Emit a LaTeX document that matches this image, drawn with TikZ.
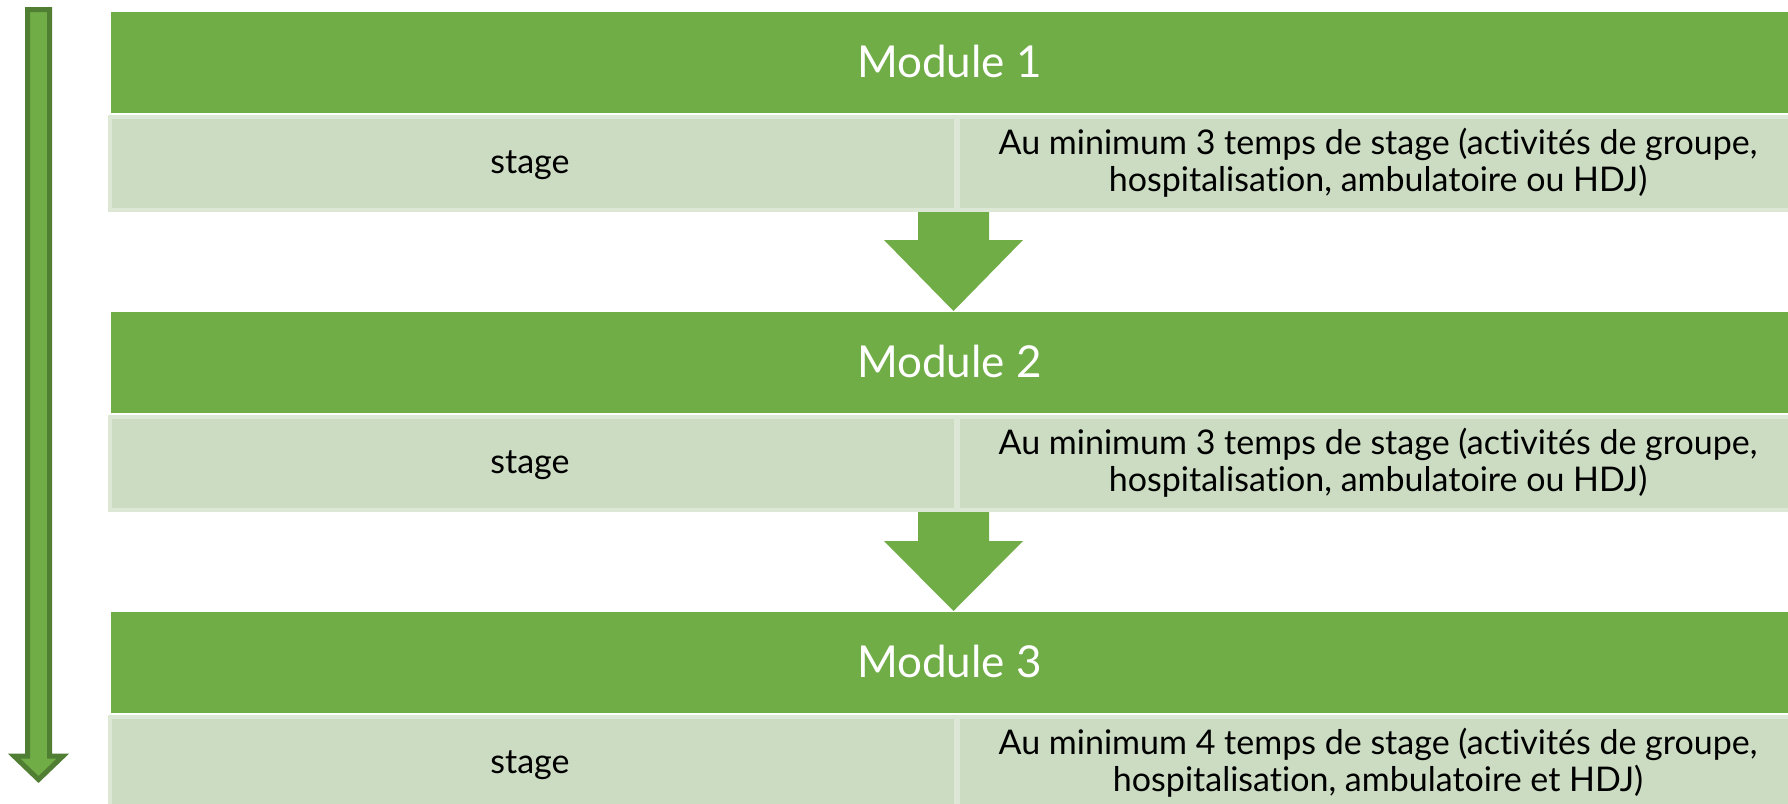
\documentclass[tikz,border=0pt]{standalone}
\usepackage{fontspec}
\setmainfont[Ligatures=CommonOff]{Lato}
\definecolor{hdr}{HTML}{70AD47}
\definecolor{cellfill}{RGB}{203,220,194}
\definecolor{cellline}{RGB}{220,231,214}
\definecolor{darkgreen}{HTML}{507E32}
\begin{document}
\begin{tikzpicture}[x=1pt,y=-1pt,
  hdrbox/.style={fill=hdr, draw=none, inner sep=0pt, anchor=north west,
    minimum width=1680pt, minimum height=101pt},
  hdrtext/.style={text=white, inner sep=0pt, font=\fontsize{44}{48}\selectfont, anchor=base},
  cellbox/.style={fill=cellfill, draw=cellline, line width=4pt, inner sep=0pt,
    anchor=north west, minimum height=93pt},
  celltext/.style={text=black, inner sep=0pt, font=\fontsize{34}{37}\selectfont},
  chev/.style={fill=hdr, draw=none},
  sidearrow/.style={fill=hdr, draw=darkgreen, line width=5pt, line join=miter}
]
\useasboundingbox (0,0) rectangle (1788,803);

% side arrow
\draw[sidearrow] (27.5,9.5) -- (49.5,9.5) -- (49.5,756) -- (63,756) -- (38.5,779.5)
  -- (14,756) -- (27.5,756) -- cycle;

% chevron arrows between modules
\fill[chev] (918,206) -- (989,206) -- (989,240) -- (1023,240) -- (953.5,311)
  -- (884,240) -- (918,240) -- cycle;
\fill[chev] (918,506) -- (989,506) -- (989,541) -- (1023,541) -- (953.5,611)
  -- (884,541) -- (918,541) -- cycle;

\foreach \i/\n in {0/1, 1/2, 2/3}{
  \node[hdrbox] (h\n) at (111,12+300*\i) {};
  \node[hdrtext] (ht\n) at (949.5,77+300*\i) {Module \n};
  \node[cellbox, minimum width=846pt] (cl\n) at (108,115+300*\i) {};
  \node[cellbox, minimum width=850pt] (cr\n) at (956,115+300*\i) {};
  \node[celltext, anchor=base] (sl\n) at (530,173+300*\i) {stage};
}
\node[celltext, align=center] (sr1) at (1378,163) {Au minimum 3 temps de stage (activités de groupe,\\hospitalisation, ambulatoire ou HDJ)};
\node[celltext, align=center] (sr2) at (1378,463) {Au minimum 3 temps de stage (activités de groupe,\\hospitalisation, ambulatoire ou HDJ)};
\node[celltext, align=center] (sr3) at (1378,763) {Au minimum 4 temps de stage (activités de groupe,\\hospitalisation, ambulatoire et HDJ)};
\end{tikzpicture}
\end{document}
